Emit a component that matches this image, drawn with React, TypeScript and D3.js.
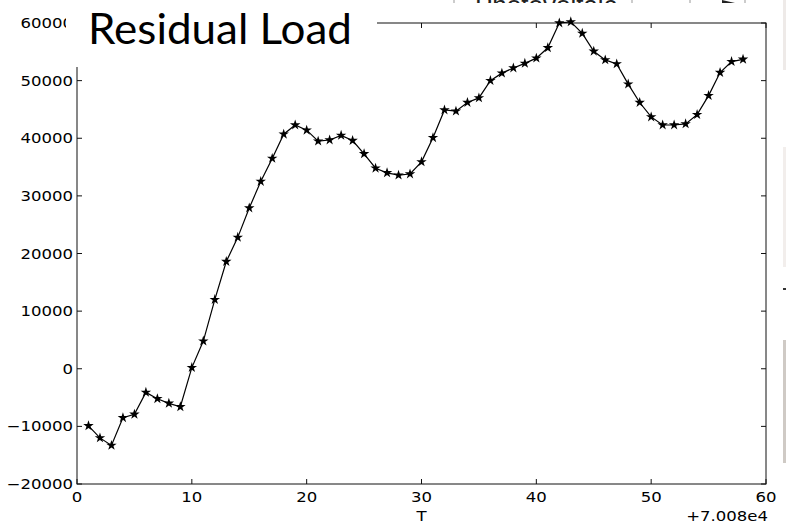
import React, { useRef, useEffect } from 'react';
import * as d3 from 'd3';

// residual load per time step (offset +7.008e4)
const steps = d3.range(1, 59);
const residualLoad = [
  -9900, -12000, -13300, -8500, -7900, -4100, -5200, -6000, -6600, 200,
  4800, 12000, 18600, 22800, 27900, 32500, 36500, 40700, 42300, 41400,
  39500, 39700, 40500, 39600, 37300, 34800, 34000, 33600, 33800, 35900,
  40100, 44900, 44700, 46200, 47000, 50000, 51300, 52200, 53000, 53900,
  55700, 60000, 60200, 58200, 55100, 53600, 52900, 49400, 46200, 43700,
  42300, 42300, 42500, 44100, 47400, 51400, 53300, 53700
];
const xTicks = [0, 10, 20, 30, 40, 50, 60];
const yTicks = [-20000, -10000, 0, 10000, 20000, 30000, 40000, 50000, 60000];

const App = () => {
  const svgRef = useRef<SVGSVGElement>(null);

  useEffect(() => {
    const svg = d3.select(svgRef.current);
    const width = 786;
    const height = 524;
    const margin = { top: 23, right: 20, bottom: 40, left: 77 };
    const stretch = 1.18;
    const tickFont = '"DejaVu Sans", sans-serif';

    svg.attr('width', width).attr('height', height);
    svg.selectAll('*').remove();

    svg.append('rect').attr('width', width).attr('height', height).attr('fill', '#fff');

    const x = d3.scaleLinear().domain([0, 60]).range([margin.left, width - margin.right]);
    const y = d3.scaleLinear().domain([-20000, 60000]).range([height - margin.bottom, margin.top]);

    // slide leftovers around the pasted plot
    const deco = svg.append('g');
    deco.append('text')
      .attr('x', 475).attr('y', 14)
      .style('font-family', 'Liberation Sans, sans-serif')
      .style('font-size', '26px')
      .attr('fill', '#222')
      .text('Photovoltaic');
    deco.append('rect').attr('x', 400).attr('y', 3).attr('width', 383).attr('height', 30).attr('fill', '#fff');
    [454, 632, 690, 745].forEach(px => {
      deco.append('line').attr('x1', px).attr('x2', px).attr('y1', 0).attr('y2', 3)
        .attr('stroke', '#bbb').attr('stroke-width', 1.5);
    });
    deco.append('path').attr('d', 'M722,0 L735,3 L722,3 Z').attr('fill', '#222');
    deco.append('rect').attr('x', 783).attr('y', 0).attr('width', 3).attr('height', 70).attr('fill', '#eeeae8');
    deco.append('rect').attr('x', 783).attr('y', 147).attr('width', 3).attr('height', 120).attr('fill', '#f2eeec');
    deco.append('rect').attr('x', 783).attr('y', 288).attr('width', 3).attr('height', 2).attr('fill', '#333');
    deco.append('rect').attr('x', 783).attr('y', 340).attr('width', 3).attr('height', 123).attr('fill', '#cfcac5');

    const plot = svg.append('g');

    // frame
    plot.append('rect')
      .attr('x', x(0)).attr('y', y(60000))
      .attr('width', x(60) - x(0)).attr('height', y(-20000) - y(60000))
      .attr('fill', 'none').attr('stroke', '#111').attr('stroke-width', 1);

    // inward ticks on all four sides
    const tl = 5;
    xTicks.forEach(t => {
      plot.append('line').attr('x1', x(t)).attr('x2', x(t)).attr('y1', y(-20000)).attr('y2', y(-20000) - tl).attr('stroke', '#111');
      plot.append('line').attr('x1', x(t)).attr('x2', x(t)).attr('y1', y(60000)).attr('y2', y(60000) + tl).attr('stroke', '#111');
      plot.append('text')
        .attr('transform', `translate(${x(t)},${y(-20000) + 18}) scale(${stretch},1)`)
        .attr('text-anchor', 'middle')
        .style('font-family', tickFont).style('font-size', '14px')
        .text(t);
    });
    yTicks.forEach(t => {
      plot.append('line').attr('x1', x(0)).attr('x2', x(0) + tl).attr('y1', y(t)).attr('y2', y(t)).attr('stroke', '#111');
      plot.append('line').attr('x1', x(60)).attr('x2', x(60) - tl).attr('y1', y(t)).attr('y2', y(t)).attr('stroke', '#111');
      plot.append('text')
        .attr('transform', `translate(${x(0) - 4},${y(t) + 5}) scale(${stretch},1)`)
        .attr('text-anchor', 'end')
        .style('font-family', tickFont).style('font-size', '14px')
        .text(t < 0 ? '\u2212' + Math.abs(t) : String(t));
    });

    plot.append('text')
      .attr('transform', `translate(${x(30)},${height - 3}) scale(${stretch},1)`)
      .attr('text-anchor', 'middle')
      .style('font-family', tickFont).style('font-size', '14px')
      .text('T');
    plot.append('text')
      .attr('transform', `translate(${x(60) + 2},${height - 3}) scale(${stretch},1)`)
      .attr('text-anchor', 'end')
      .style('font-family', tickFont).style('font-size', '14px')
      .text('+7.008e4');

    const line = d3.line<number>()
      .x((d, i) => x(steps[i]))
      .y(d => y(d));

    plot.append('path')
      .datum(residualLoad)
      .attr('fill', 'none')
      .attr('stroke', '#000')
      .attr('stroke-width', 1.2)
      .attr('d', line);

    const star = d3.symbol().type(d3.symbolStar).size(34);
    plot.selectAll('.pt')
      .data(residualLoad)
      .join('path')
      .attr('class', 'pt')
      .attr('transform', (d, i) => `translate(${x(steps[i])},${y(d)})`)
      .attr('d', star)
      .attr('fill', '#000');

    // title box pasted over the top-left of the plot
    svg.append('rect').attr('x', 66).attr('y', 0).attr('width', 311).attr('height', 67).attr('fill', '#fff');
    svg.append('text')
      .attr('x', 88).attr('y', 43.5)
      .attr('textLength', 264)
      .attr('lengthAdjust', 'spacingAndGlyphs')
      .style('font-family', 'Lato, "Open Sans", sans-serif')
      .style('font-size', '42px')
      .attr('fill', '#000')
      .text('Residual Load');
  }, []);

  return (
    <div style={{ position: 'absolute', left: 0, top: 0 }}>
      <svg ref={svgRef} style={{ display: 'block' }}></svg>
    </div>
  );
};

export default App;
